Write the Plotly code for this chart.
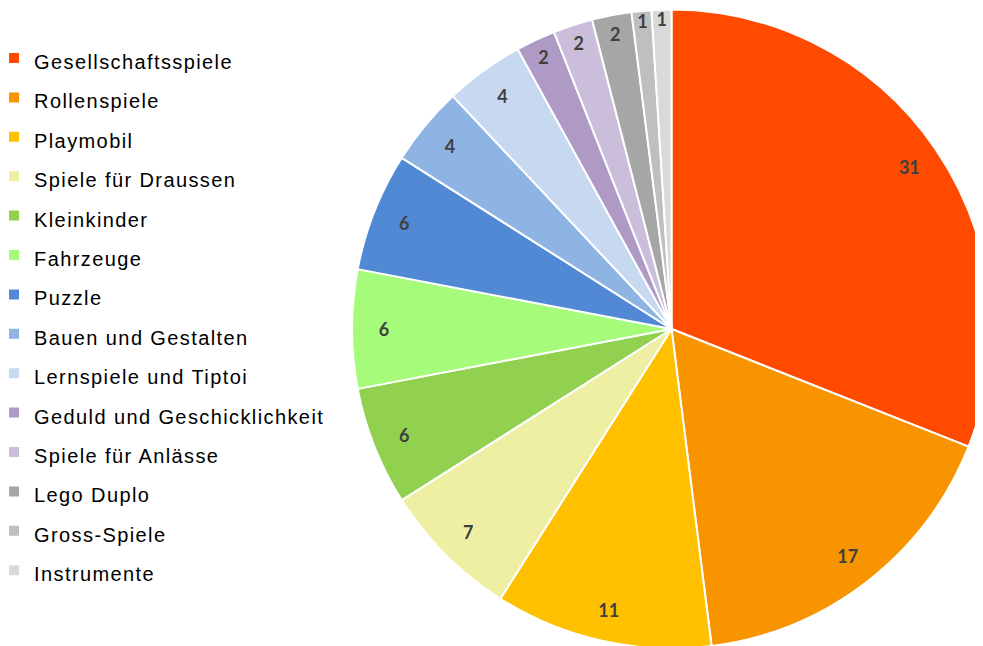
import plotly.graph_objects as go

categories = [
    "Gesellschaftsspiele", "Rollenspiele", "Playmobil", "Spiele für Draussen",
    "Kleinkinder", "Fahrzeuge", "Puzzle", "Bauen und Gestalten",
    "Lernspiele und Tiptoi", "Geduld und Geschicklichkeit", "Spiele für Anlässe",
    "Lego Duplo", "Gross-Spiele", "Instrumente",
]
values = [31, 17, 11, 7, 6, 6, 6, 4, 4, 2, 2, 2, 1, 1]
colors = [
    "#FF4A00", "#F79400", "#FFC000", "#EFEFA3", "#92D050", "#A6FC7A",
    "#5189D4", "#8EB4E3", "#C6D9F1", "#AF9AC6", "#CABEDB",
    "#A6A6A6", "#BFBFBF", "#D9D9D9",
]

legend_labels = [
    f"<span style='font-size:20px;letter-spacing:1.4px'>{c}</span>" for c in categories
]

pie_domain = dict(x=[0.35, 1.0], y=[0.0085, 0.9977])

# Filled slices (no text)
fig = go.Figure(
    go.Pie(
        labels=legend_labels,
        values=values,
        sort=False,
        direction="clockwise",
        rotation=0,
        marker=dict(colors=colors, line=dict(color="white", width=2)),
        textinfo="none",
        hoverinfo="label+value",
        domain=pie_domain,
    )
)

# Transparent ring carrying the value labels near the outer edge
fig.add_trace(
    go.Pie(
        labels=legend_labels,
        values=values,
        sort=False,
        direction="clockwise",
        rotation=0,
        hole=0.8,
        showlegend=False,
        marker=dict(colors=["rgba(0,0,0,0)"] * len(values), line=dict(width=0)),
        texttemplate="%{value}",
        textposition="inside",
        insidetextorientation="horizontal",
        textfont=dict(family="Lato", size=18, color="#404040", weight="bold"),
        hoverinfo="skip",
        domain=pie_domain,
    )
)

fig.update_layout(
    width=983,
    height=646,
    margin=dict(l=0, r=0, t=0, b=0, autoexpand=False),
    paper_bgcolor="white",
    plot_bgcolor="white",
    showlegend=True,
    legend=dict(
        x=-0.0142, xanchor="left",
        y=0.9608, yanchor="top",
        font=dict(family="Arial", size=28, color="#000000"),
        bgcolor="rgba(0,0,0,0)",
        traceorder="normal",
    ),
    uniformtext=dict(mode="show", minsize=18),
)

fig.write_html("out.html")
